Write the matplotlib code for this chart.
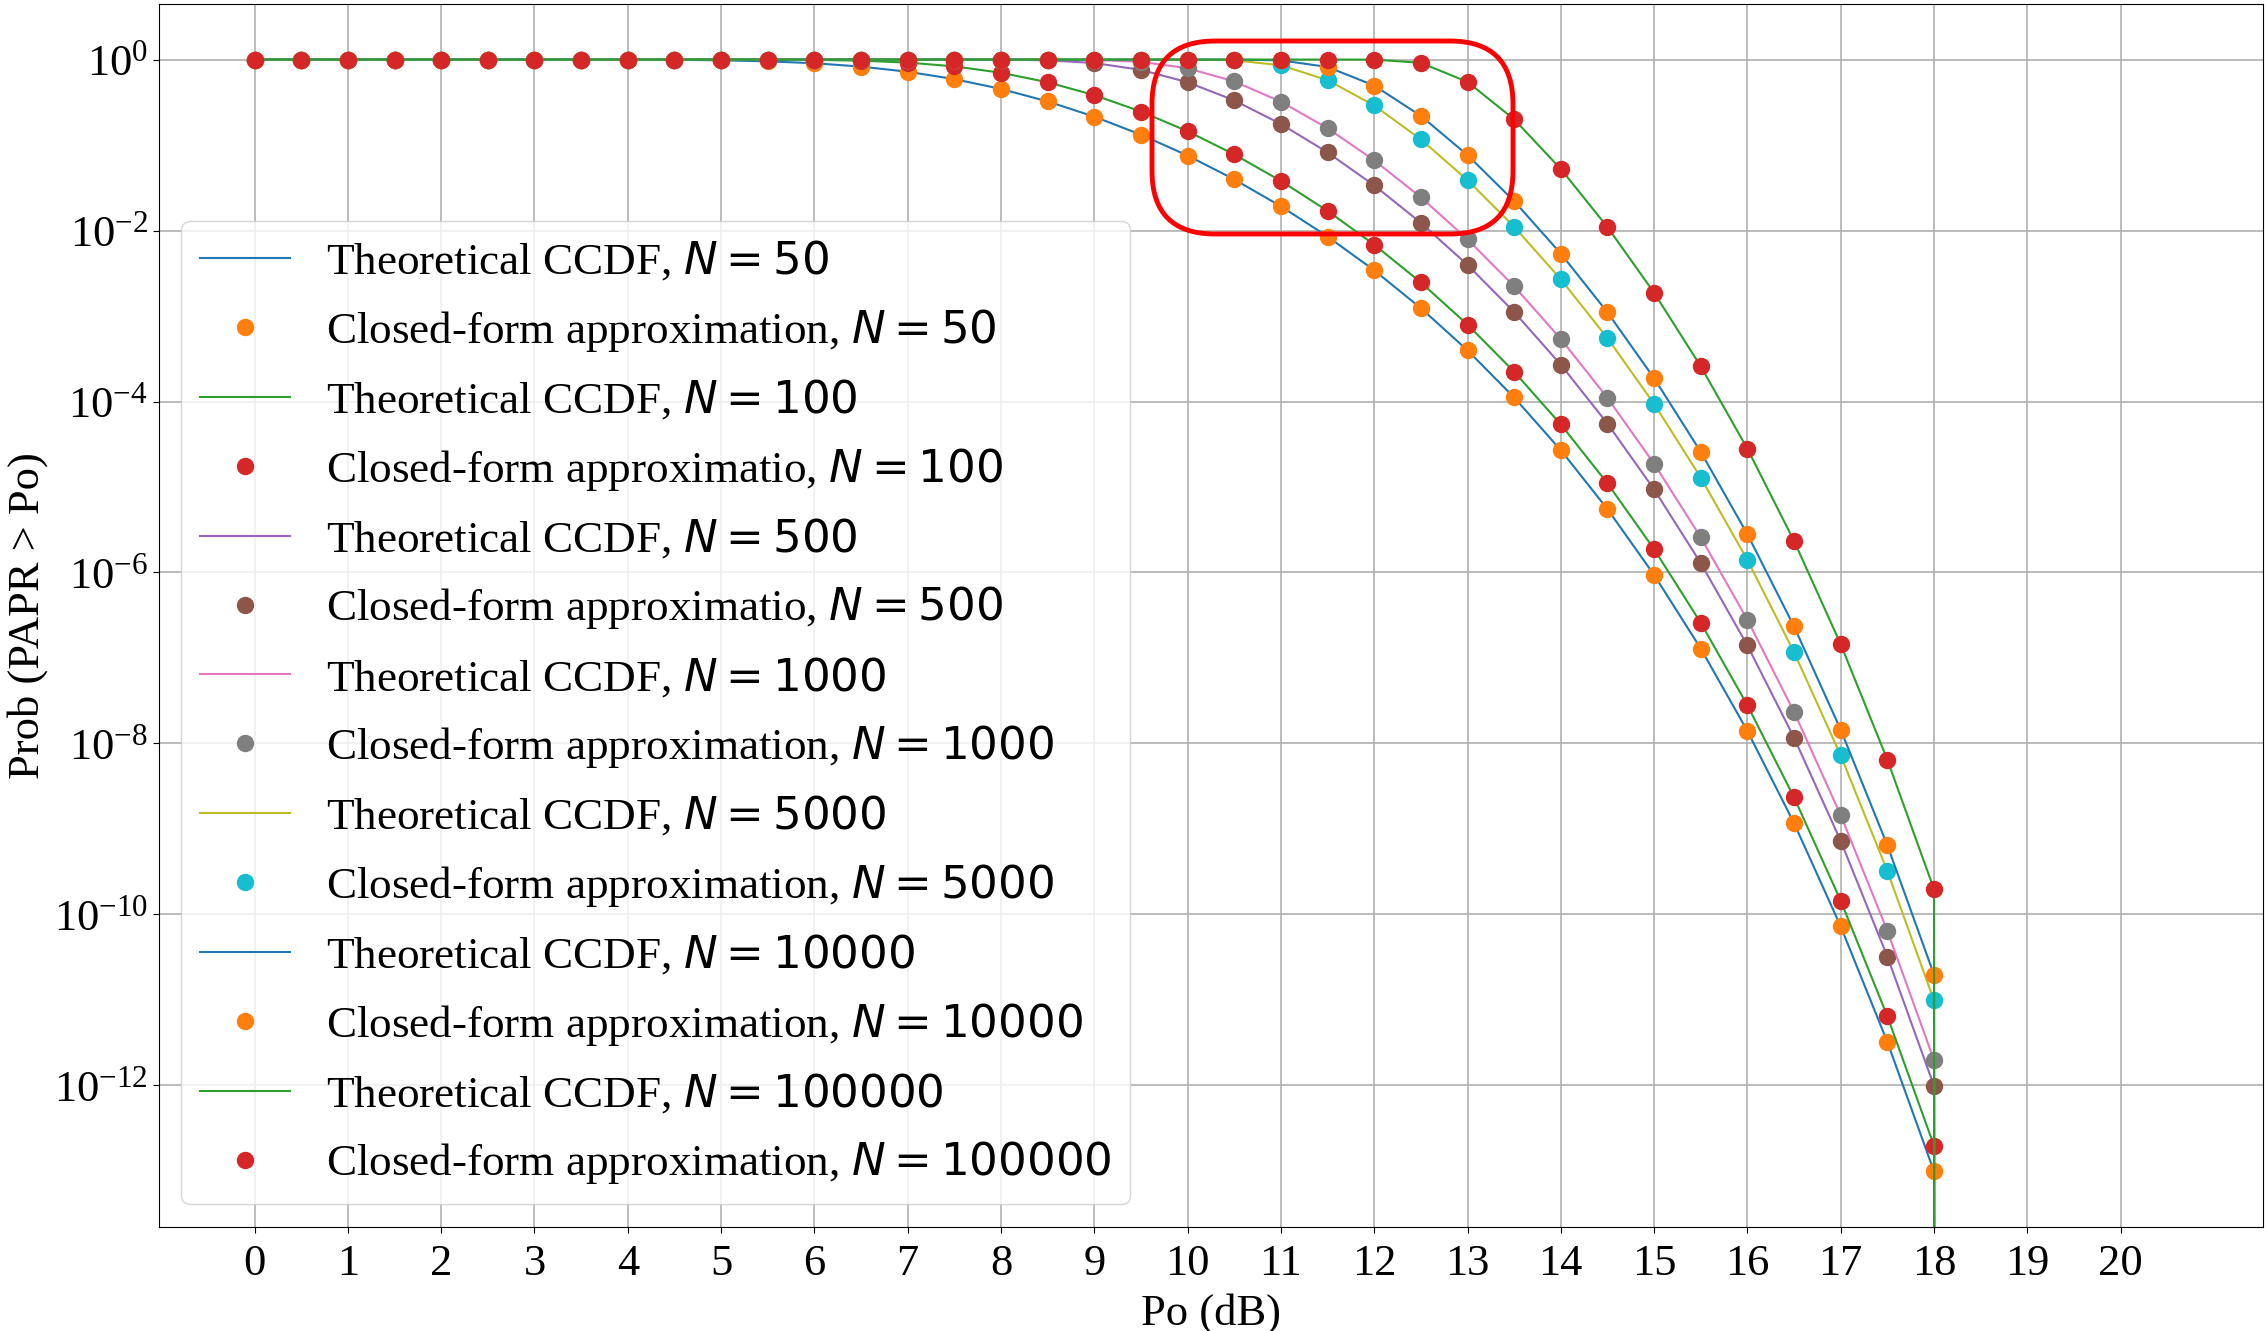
import numpy as np
import matplotlib
matplotlib.use('Agg')
import matplotlib.pyplot as plt
from matplotlib.patches import FancyBboxPatch
from matplotlib.ticker import NullLocator

plt.rcParams['font.family'] = ['Liberation Serif', 'DejaVu Sans']
plt.rcParams['font.size'] = 32

# Po grid (dB) of the closed-form points, and the finer-looking theory grid that
# runs on past 18 dB where the CCDF underflows to 0 (gives the vertical drop)
po = np.arange(0, 18.5, 0.5)
po_theory = np.arange(0, 21.0, 0.5)
underflow = [0.0, 0.0, 0.0, 0.0, 0.0]

n_values = [50, 100, 500, 1000, 5000, 10000, 100000]

ccdf_50 = [1.0, 1.0, 1.0, 1.0, 1.0, 1.0, 1.0,
           0.9993, 0.9975, 0.9925, 0.9801, 0.9536, 0.9051, 0.8276, 0.7203,
           0.5908, 0.4532, 0.3238, 0.2149, 0.1322,
           0.07534, 0.03965, 0.01921, 8.515e-3, 3.425e-3, 1.237e-3,
           3.968e-4, 1.114e-4, 2.695e-5, 5.516e-6, 9.361e-7, 1.288e-7,
           1.399e-8, 1.167e-9, 7.236e-11, 3.217e-12, 9.845e-14]
ccdf_100 = [1.0, 1.0, 1.0, 1.0, 1.0, 1.0, 1.0, 1.0, 1.0, 1.0,
            0.9996, 0.9979, 0.9910, 0.9703, 0.9218, 0.8325, 0.7010, 0.5427,
            0.3835, 0.2468,
            0.1450, 0.07772, 0.03804, 0.01696, 6.837e-3, 2.473e-3,
            7.935e-4, 2.228e-4, 5.390e-5, 1.103e-5, 1.872e-6, 2.575e-7,
            2.798e-8, 2.334e-9, 1.447e-10, 6.434e-12, 1.969e-13]
ccdf_500 = [1.0, 1.0, 1.0, 1.0, 1.0, 1.0, 1.0, 1.0, 1.0, 1.0,
            1.0, 1.0, 1.0, 1.0, 1.0,
            0.9999, 0.9976, 0.9800, 0.9110, 0.7577,
            0.5431, 0.3327, 0.1763, 0.08196, 0.03372, 0.01231,
            3.961e-3, 1.114e-3, 2.695e-4, 5.516e-5, 9.361e-6, 1.288e-6,
            1.399e-7, 1.167e-8, 7.236e-10, 3.217e-11, 9.845e-13]
ccdf_1000 = [1.0, 1.0, 1.0, 1.0, 1.0, 1.0, 1.0, 1.0, 1.0, 1.0,
             1.0, 1.0, 1.0, 1.0, 1.0, 1.0, 1.0,
             0.9996, 0.9921, 0.9413,
             0.7913, 0.5547, 0.3215, 0.1572, 0.06631, 0.02446,
             7.907e-3, 2.226e-3, 5.389e-4, 1.103e-4, 1.872e-5, 2.575e-6,
             2.798e-7, 2.334e-8, 1.447e-9, 6.434e-11, 1.969e-12]
ccdf_5000 = [1.0, 1.0, 1.0, 1.0, 1.0, 1.0, 1.0, 1.0, 1.0, 1.0,
             1.0, 1.0, 1.0, 1.0, 1.0, 1.0, 1.0, 1.0, 1.0, 1.0,
             0.9996, 0.9825, 0.8562, 0.5748, 0.2904, 0.1165,
             0.03891, 0.01108, 2.692e-3, 5.515e-4, 9.361e-5, 1.288e-5,
             1.399e-6, 1.167e-7, 7.236e-9, 3.217e-10, 9.845e-12]
ccdf_10000 = [1.0, 1.0, 1.0, 1.0, 1.0, 1.0, 1.0, 1.0, 1.0, 1.0,
              1.0, 1.0, 1.0, 1.0, 1.0, 1.0, 1.0, 1.0, 1.0, 1.0, 1.0,
              0.9997, 0.9793, 0.8192, 0.4965, 0.2194,
              0.07631, 0.02204, 5.376e-3, 1.103e-3, 1.872e-4, 2.575e-5,
              2.798e-6, 2.334e-7, 1.447e-8, 6.434e-10, 1.969e-11]
ccdf_100000 = [1.0, 1.0, 1.0, 1.0, 1.0, 1.0, 1.0, 1.0, 1.0, 1.0,
               1.0, 1.0, 1.0, 1.0, 1.0, 1.0, 1.0, 1.0, 1.0, 1.0,
               1.0, 1.0, 1.0, 1.0,
               0.9990, 0.9160,
               0.5479, 0.1998, 0.05248, 0.01097, 1.870e-3, 2.575e-4,
               2.798e-5, 2.334e-6, 1.447e-7, 6.434e-9, 1.969e-10]

ccdf_all = [ccdf_50, ccdf_100, ccdf_500, ccdf_1000, ccdf_5000, ccdf_10000, ccdf_100000]
# legend names as in the original (two of them are missing the final "n")
closed_names = ['Closed-form approximation', 'Closed-form approximatio',
                'Closed-form approximatio', 'Closed-form approximation',
                'Closed-form approximation', 'Closed-form approximation',
                'Closed-form approximation']

fig = plt.figure(figsize=(22.67, 13.31), dpi=100)
ax = fig.add_axes([0.0701, 0.0781, 0.9281, 0.9189])
ax.set_yscale('log')

for n, ccdf, cname in zip(n_values, ccdf_all, closed_names):
    ax.plot(po_theory, ccdf + underflow, lw=1.5, label='Theoretical CCDF, $N = %d$' % n)
    ax.plot(po, ccdf, 'o', ms=11.5, label='%s, $N = %d$' % (cname, n))

ax.set_xlim(-1.025, 21.525)
ax.set_ylim(10 ** -13.657, 10 ** 0.650)
ax.set_xticks(range(0, 21))
ax.set_yticks([1e0, 1e-2, 1e-4, 1e-6, 1e-8, 1e-10, 1e-12])
ax.yaxis.set_minor_locator(NullLocator())
ax.tick_params(length=4.5)
ax.tick_params(axis='x', pad=7.5)
ax.grid(True, color='#b0b0b0', lw=1.2)

ax.set_xlabel('Po (dB)', labelpad=7)
ax.set_ylabel('Prob (PAPR > Po)')
ax.legend(loc='lower left', fontsize=32.5, labelspacing=0.53)

# red highlight box around the 10-13 dB knee (drawn in inches)
box = FancyBboxPatch((11.52, 10.97), 3.61, 1.93,
                     boxstyle='round,pad=0,rounding_size=0.63',
                     transform=fig.dpi_scale_trans,
                     fill=False, ec='#ff0000', lw=3.5, zorder=10)
fig.add_artist(box)

fig.savefig('out.png', dpi=100)
